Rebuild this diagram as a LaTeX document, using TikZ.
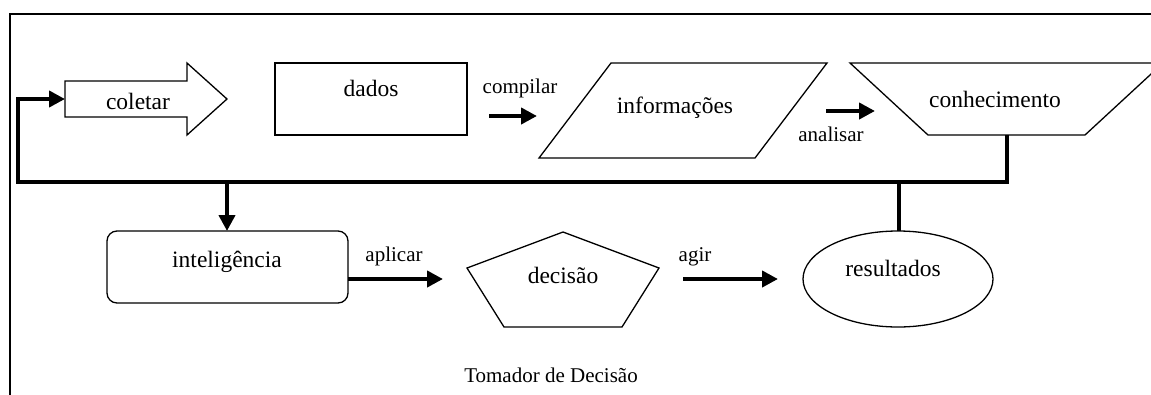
\documentclass[tikz,border=0pt]{standalone}
\usepackage{fontspec}
\setmainfont{Liberation Serif}
\usetikzlibrary{arrows.meta}
\begin{document}
\begin{tikzpicture}[x=1pt,y=-1pt,
  outline/.style={draw,line width=1.3pt,line join=miter},
  flow/.style={line width=4.5pt,line join=miter},
  flowarrow/.style={line width=4.5pt,line join=miter,-{Triangle[length=16pt,width=16pt]}},
  big/.style={font=\fontsize{23.5}{28}\selectfont,anchor=base,inner sep=0pt},
  small/.style={font=\fontsize{21}{25}\selectfont,anchor=base,inner sep=0pt}]
\useasboundingbox (0,0) rectangle (1151,394);
\clip (0,0) rectangle (1151,394);
% frame
\draw[line width=1.3pt] (10,420) -- (10,14) -- (1180,14);

% shapes
\draw[outline] (65,81) -- (187,81) -- (187,63) -- (227,99) -- (187,135) -- (187,117) -- (65,117) -- cycle;
\draw[outline] (275,63) rectangle (467,135);
\draw[outline] (611,63) -- (827,63) -- (755,158) -- (539,158) -- cycle;
\draw[outline] (850,63) -- (1163,63) -- (1085,135) -- (928,135) -- cycle;
\draw[outline,rounded corners=10pt] (107,231) rectangle (348,303);
\draw[outline] (563,232) -- (659,268) -- (622,327) -- (504,327) -- (467,268) -- cycle;
\draw[outline] (898,279) ellipse [x radius=95pt, y radius=48pt];

% named points
\coordinate (colIn) at (65,99);
\coordinate (conhB) at (1007,135);
\coordinate (fbL) at (18,182);
\coordinate (br1) at (227,182);
\coordinate (intTop) at (227,231);
\coordinate (resTop) at (899,231);
\coordinate (br2) at (899,182);
\coordinate (dadR) at (489,116);
\coordinate (infL) at (537,116);
\coordinate (infR) at (826,111);
\coordinate (conL) at (875,111);
\coordinate (intR) at (348,279);
\coordinate (decL) at (443,279);
\coordinate (decR) at (683,279);
\coordinate (resL) at (778,279);

% connectors
\draw[flowarrow] (conhB) |- (fbL) |- (colIn);
\draw[flowarrow] (br1) -- (intTop);
\draw[flow] (resTop) -- (br2);
\draw[flowarrow] (dadR) -- (infL);
\draw[flowarrow] (infR) -- (conL);
\draw[flowarrow] (intR) -- (decL);
\draw[flowarrow] (decR) -- (resL);

% texts
\node[big] (tcol) at (138,109) {coletar};
\node[big] (tdad) at (371,96) {dados};
\node[big] (tinf) at (675,113) {informações};
\node[big] (tcon) at (995,107) {conhecimento};
\node[big] (tint) at (227,267) {inteligência};
\node[big] (tdec) at (563,283) {decisão};
\node[big] (tres) at (893,276) {resultados};
\node[small] (tcomp) at (520,93) {compilar};
\node[small] (tana) at (831,141) {analisar};
\node[small] (tapl) at (394,261) {aplicar};
\node[small] (tagi) at (695,261) {agir};
\node[small] (ttom) at (551,382) {Tomador de Decisão};
\end{tikzpicture}
\end{document}
